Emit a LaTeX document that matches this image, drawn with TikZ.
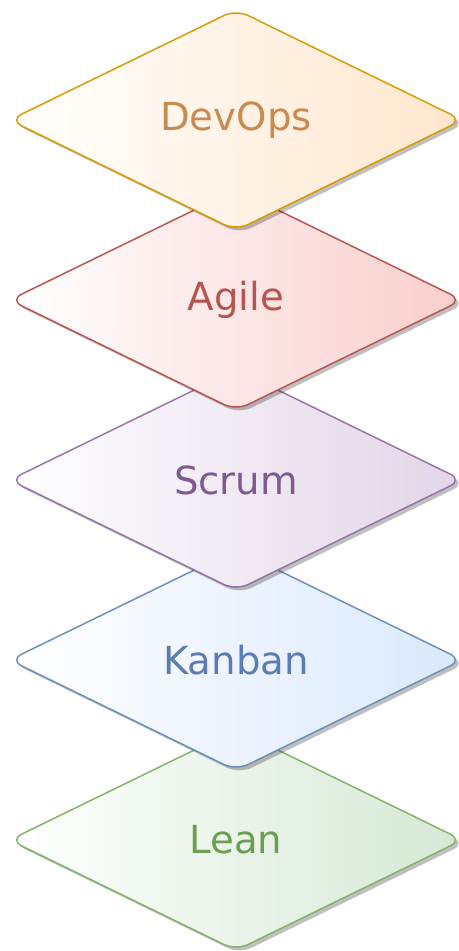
\documentclass[tikz,border=0pt]{standalone}
\usepackage{fontspec}
\setmainfont{DejaVu Sans}
\usetikzlibrary{shapes.geometric, shadows}
\definecolor{devopsfill}{HTML}{FFE6CC}
\definecolor{devopsline}{HTML}{D79B00}
\definecolor{devopstext}{HTML}{C98A50}
\definecolor{agilefill}{HTML}{F8CECC}
\definecolor{agileline}{HTML}{B85450}
\definecolor{scrumfill}{HTML}{E1D5E7}
\definecolor{scrumline}{HTML}{9673A6}
\definecolor{scrumtext}{HTML}{7D5A92}
\definecolor{kanbanfill}{HTML}{DAE8FC}
\definecolor{kanbanline}{HTML}{6C8EBF}
\definecolor{kanbantext}{HTML}{5C7DB2}
\definecolor{leanfill}{HTML}{D5E8D4}
\definecolor{leanline}{HTML}{82B366}
\definecolor{leantext}{HTML}{6A9E50}

\begin{document}
\begin{tikzpicture}[x=0.75pt, y=-0.75pt]

\tikzset{
layer/.style = {diamond, draw, line width = 1.1pt, rounded corners = 10pt,
	minimum width = 340pt, minimum height = 166pt, inner sep = 0pt,
	font = \fontsize{29}{34}\selectfont,
	drop shadow = {shadow xshift = 2.5pt, shadow yshift = -2.5pt, fill = black, opacity = 0.25}},
}

\useasboundingbox (0,0) rectangle (459,951);

%% Stack, bottom layer first
\node at (236, 840) [layer, draw = leanline, left color = white, right color = leanfill,
	text = leantext] (lean) {Lean};
\node at (236, 660) [layer, draw = kanbanline, left color = white, right color = kanbanfill,
	text = kanbantext] (kanban) {Kanban};
\node at (236, 480) [layer, draw = scrumline, left color = white, right color = scrumfill,
	text = scrumtext] (scrum) {Scrum};
\node at (236, 300) [layer, draw = agileline, left color = white, right color = agilefill,
	text = agileline] (agile) {Agile};
\node at (236, 120) [layer, draw = devopsline, left color = white, right color = devopsfill,
	text = devopstext] (devops) {DevOps};

\end{tikzpicture}
\end{document}
